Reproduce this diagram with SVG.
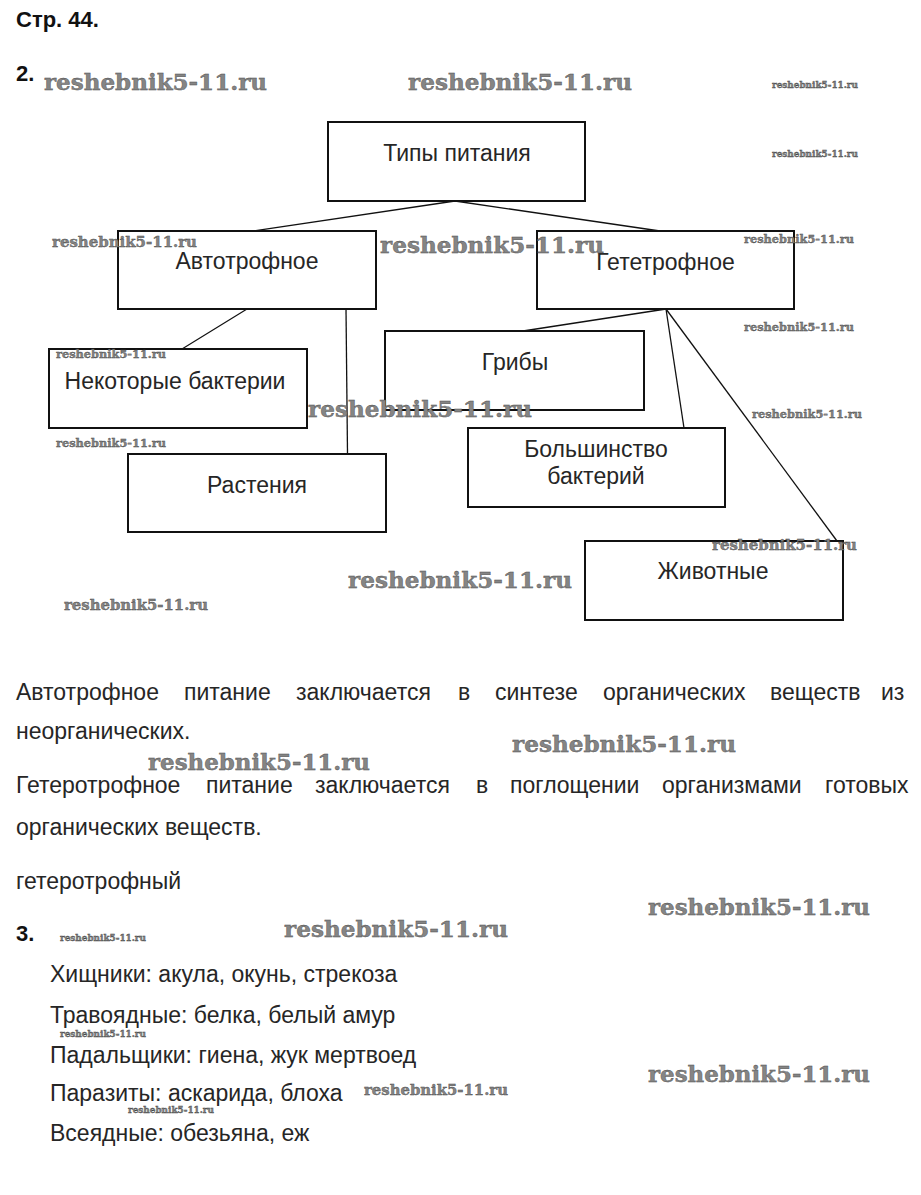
<svg xmlns="http://www.w3.org/2000/svg" width="921" height="1195" viewBox="0 0 921 1195">
<style>
.bg{fill:#fff}
.box{fill:none;stroke:#111;stroke-width:2}
.conn line{stroke:#111;stroke-width:1.3}
.t{font-family:"Liberation Sans",Arial,sans-serif;font-size:23px;fill:#262626}
.c{text-anchor:middle}
.h{font-family:"Liberation Sans",Arial,sans-serif;font-size:22px;font-weight:bold;fill:#111}
.wm{font-family:"DejaVu Serif",serif;font-weight:bold;fill:#858585;stroke:#444;stroke-width:0.35}
.L{font-size:22px}.M{font-size:14.5px}.S{font-size:11px}.T{font-size:8.5px}
</style>
<rect class="bg" x="0" y="0" width="921" height="1195"/>
<text class="h" x="16" y="27">Стр. 44.</text>
<text class="h" x="16" y="81">2.</text>
<g id="connectors" class="conn">
<line x1="455" y1="201" x2="253" y2="231"/>
<line x1="455" y1="201" x2="660" y2="231"/>
<line x1="247" y1="309" x2="182" y2="349"/>
<line x1="346" y1="309" x2="347.5" y2="454"/>
<line x1="666" y1="309" x2="523" y2="331"/>
<line x1="666" y1="309" x2="684" y2="428"/>
<line x1="666" y1="309" x2="837" y2="541"/>
</g>
<g id="n-types"><rect class="box" x="328" y="122" width="257" height="79"/><text class="t c" x="457" y="161">Типы питания</text></g>
<g id="n-auto"><rect class="box" x="118" y="231" width="258" height="78"/><text class="t c" x="247" y="269">Автотрофное</text></g>
<g id="n-hetero"><rect class="box" x="537" y="231" width="257" height="78"/><text class="t c" x="665.5" y="270">Гететрофное</text></g>
<g id="n-somebact"><rect class="box" x="49" y="349" width="258" height="79"/><text class="t c" x="175" y="389">Некоторые бактерии</text></g>
<g id="n-plants"><rect class="box" x="128" y="454" width="258" height="78"/><text class="t c" x="257" y="493">Растения</text></g>
<g id="n-fungi"><rect class="box" x="385" y="331" width="259" height="79"/><text class="t c" x="515" y="370">Грибы</text></g>
<g id="n-mostbact"><rect class="box" x="468" y="428" width="257" height="79"/><text class="t c" x="596" y="457">Большинство</text><text class="t c" x="596" y="484">бактерий</text></g>
<g id="n-animals"><rect class="box" x="585" y="541" width="258" height="79"/><text class="t c" x="713" y="579">Животные</text></g>
<text class="t" y="700"><tspan x="16">Автотрофное</tspan><tspan x="184">питание</tspan><tspan x="296">заключается</tspan><tspan x="458">в</tspan><tspan x="495">синтезе</tspan><tspan x="603">органических</tspan><tspan x="770">веществ</tspan><tspan x="881">из</tspan></text>
<text class="t" x="16" y="739">неорганических.</text>
<text class="t" y="793"><tspan x="16">Гетеротрофное</tspan><tspan x="206">питание</tspan><tspan x="315">заключается</tspan><tspan x="476">в</tspan><tspan x="510">поглощении</tspan><tspan x="662">организмами</tspan><tspan x="825">готовых</tspan></text>
<text class="t" x="16" y="835">органических веществ.</text>
<text class="t" x="16" y="889">гетеротрофный</text>
<text class="h" x="16" y="941">3.</text>
<text class="t" x="50" y="982">Хищники: акула, окунь, стрекоза</text>
<text class="t" x="50" y="1023">Травоядные: белка, белый амур</text>
<text class="t" x="50" y="1063">Падальщики: гиена, жук мертвоед</text>
<text class="t" x="50" y="1101">Паразиты: аскарида, блоха</text>
<text class="t" x="50" y="1141">Всеядные: обезьяна, еж</text>
<g id="watermarks">
<text class="wm L" x="44" y="90" textLength="223" lengthAdjust="spacingAndGlyphs">reshebnik5-11.ru</text>
<text class="wm L" x="408" y="90" textLength="224" lengthAdjust="spacingAndGlyphs">reshebnik5-11.ru</text>
<text class="wm T" x="772" y="88" textLength="86" lengthAdjust="spacingAndGlyphs">reshebnik5-11.ru</text>
<text class="wm T" x="772" y="157" textLength="86" lengthAdjust="spacingAndGlyphs">reshebnik5-11.ru</text>
<text class="wm M" x="52" y="247" textLength="145" lengthAdjust="spacingAndGlyphs">reshebnik5-11.ru</text>
<text class="wm L" x="380" y="253" textLength="224" lengthAdjust="spacingAndGlyphs">reshebnik5-11.ru</text>
<text class="wm S" x="744" y="243" textLength="110" lengthAdjust="spacingAndGlyphs">reshebnik5-11.ru</text>
<text class="wm S" x="744" y="331" textLength="110" lengthAdjust="spacingAndGlyphs">reshebnik5-11.ru</text>
<text class="wm S" x="56" y="358" textLength="110" lengthAdjust="spacingAndGlyphs">reshebnik5-11.ru</text>
<text class="wm L" x="308" y="417" textLength="224" lengthAdjust="spacingAndGlyphs">reshebnik5-11.ru</text>
<text class="wm S" x="56" y="447" textLength="110" lengthAdjust="spacingAndGlyphs">reshebnik5-11.ru</text>
<text class="wm S" x="752" y="418" textLength="110" lengthAdjust="spacingAndGlyphs">reshebnik5-11.ru</text>
<text class="wm M" x="712" y="550" textLength="145" lengthAdjust="spacingAndGlyphs">reshebnik5-11.ru</text>
<text class="wm L" x="348" y="588" textLength="224" lengthAdjust="spacingAndGlyphs">reshebnik5-11.ru</text>
<text class="wm M" x="64" y="610" textLength="144" lengthAdjust="spacingAndGlyphs">reshebnik5-11.ru</text>
<text class="wm L" x="148" y="770" textLength="222" lengthAdjust="spacingAndGlyphs">reshebnik5-11.ru</text>
<text class="wm L" x="512" y="752" textLength="224" lengthAdjust="spacingAndGlyphs">reshebnik5-11.ru</text>
<text class="wm L" x="648" y="915" textLength="222" lengthAdjust="spacingAndGlyphs">reshebnik5-11.ru</text>
<text class="wm L" x="284" y="937" textLength="224" lengthAdjust="spacingAndGlyphs">reshebnik5-11.ru</text>
<text class="wm T" x="60" y="941" textLength="86" lengthAdjust="spacingAndGlyphs">reshebnik5-11.ru</text>
<text class="wm T" x="60" y="1037" textLength="86" lengthAdjust="spacingAndGlyphs">reshebnik5-11.ru</text>
<text class="wm M" x="364" y="1095" textLength="144" lengthAdjust="spacingAndGlyphs">reshebnik5-11.ru</text>
<text class="wm T" x="128" y="1113" textLength="86" lengthAdjust="spacingAndGlyphs">reshebnik5-11.ru</text>
<text class="wm L" x="648" y="1082" textLength="222" lengthAdjust="spacingAndGlyphs">reshebnik5-11.ru</text>
</g>
</svg>
